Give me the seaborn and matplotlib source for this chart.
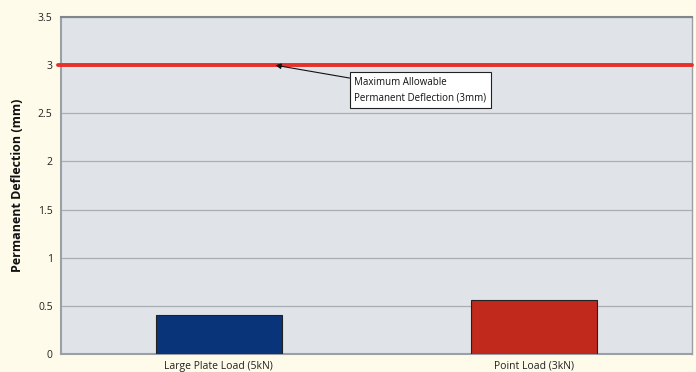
import matplotlib
matplotlib.use('Agg')
import matplotlib.pyplot as plt
import seaborn as sns
import pandas as pd

categories = ['Large Plate Load (5kN)', 'Point Load (3kN)']
deflection = [0.40, 0.56]
bar_colors = ['#0a3479', '#c0291b']
limit = 3.0
limit_label = 'Maximum Allowable\nPermanent Deflection (3mm)'

df = pd.DataFrame({'load': categories, 'deflection': deflection})

sns.set_style('white')
plt.rcParams['font.family'] = ['Open Sans', 'DejaVu Sans']

fig = plt.figure(figsize=(6.96, 3.72), dpi=100, facecolor='#fefbea')
ax = fig.add_axes([0.0876, 0.0484, 0.9064, 0.9056])
ax.set_facecolor('#e0e3e7')

sns.barplot(data=df, x='load', y='deflection', hue='load', palette=bar_colors,
            width=0.40, edgecolor='#222222', linewidth=0.8, legend=False,
            saturation=1, ax=ax, zorder=3)

ax.set_ylim(0, 3.5)
ax.set_xlim(-0.5, 1.5)
ax.set_yticks([0, 0.5, 1, 1.5, 2, 2.5, 3, 3.5])
ax.set_yticklabels(['0', '0.5', '1', '1.5', '2', '2.5', '3', '3.5'])
ax.yaxis.grid(True, color='#a9aeb4', linewidth=0.9, zorder=0)
ax.set_axisbelow(True)

ax.axhline(limit, color='#e8302a', linewidth=2.8, zorder=4, clip_on=False,
           xmin=-0.005)

ax.annotate(limit_label, xy=(0.18, limit), xytext=(0.43, 2.74),
            fontsize=7, ha='left', va='center', color='#111111',
            linespacing=1.6,
            bbox=dict(boxstyle='square,pad=0.45', fc='white', ec='#222222', lw=0.8),
            arrowprops=dict(arrowstyle='-|>', color='#111111', lw=0.8,
                            mutation_scale=8, shrinkA=0, shrinkB=0),
            zorder=5)

ax.set_xlabel('')
ax.set_ylabel('Permanent Deflection (mm)', fontsize=9, fontweight='bold',
              labelpad=10, color='#111111')
ax.tick_params(axis='y', labelsize=7.5, length=3, color='#9aa0a6',
               colors='#222222', pad=3)
ax.tick_params(axis='x', which='major', labelsize=7.5, length=0, pad=5,
               colors='#222222')
ax.set_xticks([0.5], minor=True)
ax.tick_params(axis='x', which='minor', length=4, color='#9aa0a6')

for side in ['left', 'top', 'bottom', 'right']:
    ax.spines[side].set_visible(True)
    ax.spines[side].set_color('#9aa0a6')
    ax.spines[side].set_linewidth(1.5)
ax.spines['top'].set_color('#7f868c')
ax.spines['right'].set_linewidth(1.0)

fig.savefig('out.png', dpi=100, facecolor=fig.get_facecolor())
